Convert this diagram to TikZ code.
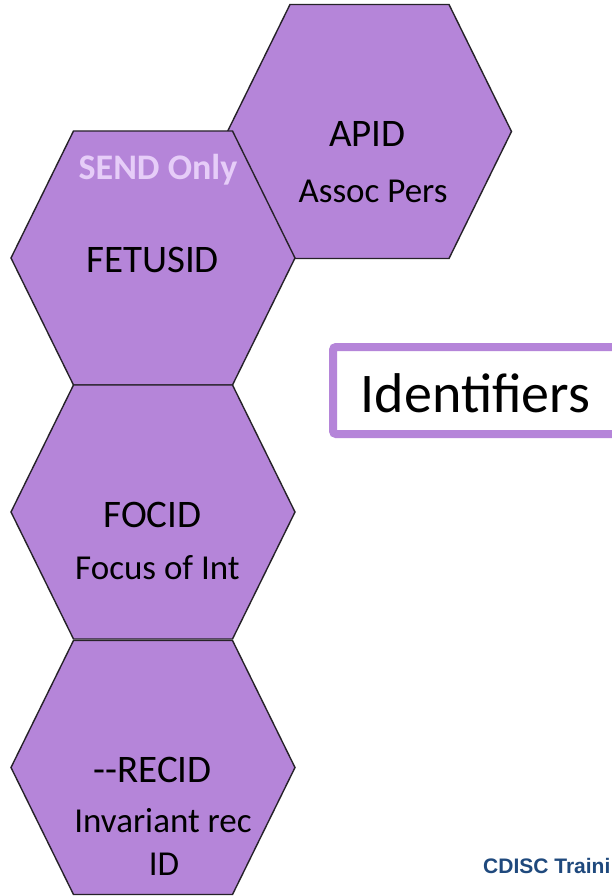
\documentclass[tikz,border=0pt]{standalone}
\usepackage{fontspec}
\setmainfont{Carlito}
\newfontfamily\arialfont{Liberation Sans}
\definecolor{hexfill}{HTML}{B585D9}
\definecolor{hexline}{HTML}{262229}
\definecolor{sendcol}{HTML}{E6CDF8}
\definecolor{cdiscblue}{HTML}{1F497D}
\tikzset{
  hexagon/.style={fill=hexfill, draw=hexline, line width=1.4pt, line join=miter},
  lbl/.style={font=\fontsize{35}{40}\selectfont, text=black, inner sep=0pt, anchor=base},
  biglbl/.style={font=\fontsize{39}{44}\selectfont, text=black, inner sep=0pt, anchor=base},
  sendlbl/.style={font=\fontsize{36}{40}\selectfont\bfseries, text=sendcol, inner sep=0pt, anchor=base},
}
\newcommand\drawhex[2]{%
  \path[hexagon, shift={(#1,#2)}] (-142,0) -- (-79.5,-127) -- (79.5,-127) -- (142,0) -- (79.5,127) -- (-79.5,127) -- cycle;}
\begin{document}
\begin{tikzpicture}[x=1pt,y=-1pt]
\useasboundingbox (0,0) rectangle (611,896);
\fill[white] (0,0) rectangle (611,896);
% hexagons
\drawhex{369.5}{131.5}
\drawhex{153}{258}
\drawhex{153}{512}
\drawhex{153}{767.5}
% texts
\node[biglbl] (apid) at (367.5,147) {APID};
\node[lbl] (assoc) at (373,203) {Assoc Pers};
\node[sendlbl] (send) at (158,179) {SEND Only};
\node[biglbl] (fetus) at (152.5,272) {FETUSID};
\node[biglbl] (focid) at (152.5,527) {FOCID};
\node[lbl] (focus) at (157.5,579) {Focus of Int};
\node[biglbl] (recid) at (152.5,782) {-{}-RECID};
\node[lbl] (invar) at (163,832) {Invariant rec};
\node[lbl] (idtxt) at (164,875) {ID};
% identifiers box
\draw[hexfill, line width=8pt, rounded corners=3pt] (333,347) rectangle (640,434);
\node[font=\fontsize{56}{64}\selectfont, inner sep=0pt, anchor=base] (ident) at (475.5,412) {Identifiers};
% footer
\node[font=\arialfont\bfseries\fontsize{21}{24}\selectfont, text=cdiscblue, inner sep=0pt, anchor=base west] (cdisc) at (483,873) {CDISC Traini};
\end{tikzpicture}
\end{document}
